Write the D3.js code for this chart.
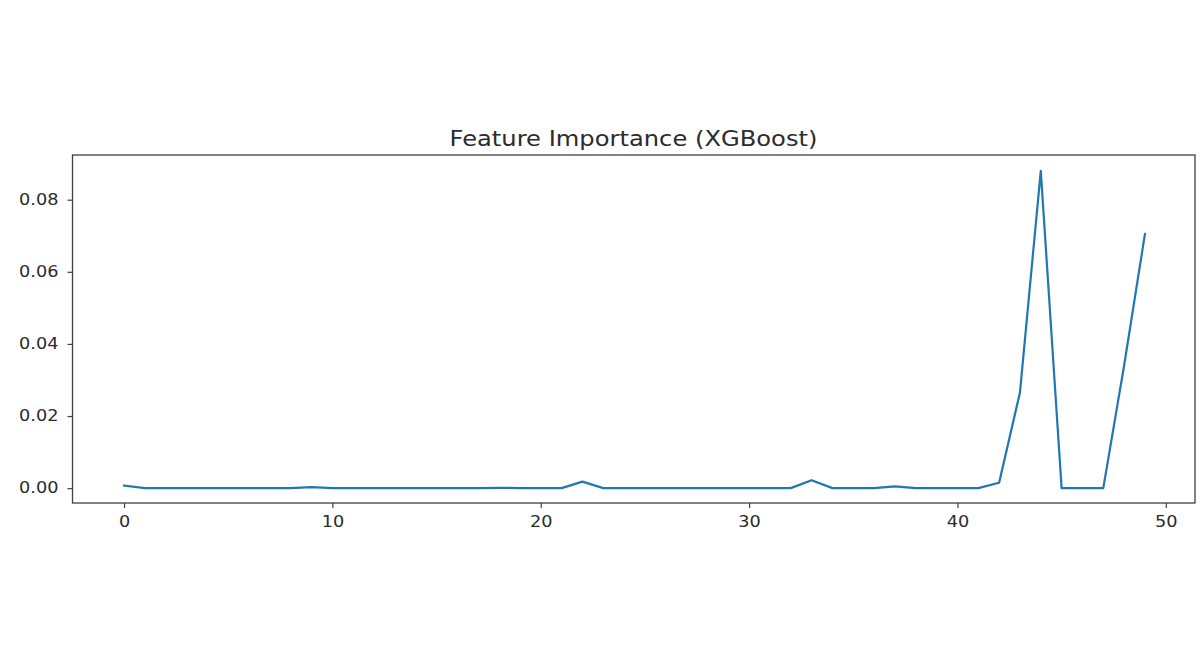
<!DOCTYPE html>
<html>
<head>
<meta charset="utf-8">
<script src="https://cdn.jsdelivr.net/npm/d3@7"></script>
<style>
  html, body { margin: 0; padding: 0; background: #fff; }
  svg { display: block; }
  text { font-family: "DejaVu Sans", sans-serif; fill: #2b2b2b; }
</style>
</head>
<body>
<svg id="chart" width="1201" height="651"></svg>
<script>
const title = "Feature Importance (XGBoost)";
const featureIndex = d3.range(50);
const importance = [
  0.0007, 0.0000, 0.0000, 0.0000, 0.0000, 0.0000, 0.0000, 0.0000, 0.0000, 0.0003,
  0.0000, 0.0000, 0.0000, 0.0000, 0.0000, 0.0000, 0.0000, 0.0000, 0.0001, 0.0000,
  0.0000, 0.0000, 0.0018, 0.0000, 0.0000, 0.0000, 0.0000, 0.0000, 0.0000, 0.0000,
  0.0000, 0.0000, 0.0000, 0.0022, 0.0000, 0.0000, 0.0000, 0.0005, 0.0000, 0.0000,
  0.0000, 0.0000, 0.0015, 0.0265, 0.0880, 0.0000, 0.0000, 0.0000, 0.0340, 0.0705
];
const xTicks = [0, 10, 20, 30, 40, 50];
const yTicks = [0.00, 0.02, 0.04, 0.06, 0.08];

const svg = d3.select("#chart");
const plot = { left: 73, right: 1196, top: 155, bottom: 504 };
const STRETCH = 1.18;

const xMin = 0, xMax = 49, yMin = 0, yMax = d3.max(importance);
const xPad = (xMax - xMin) * 0.05, yPad = (yMax - yMin) * 0.05;

const x = d3.scaleLinear().domain([xMin - xPad, xMax + xPad]).range([plot.left, plot.right]);
const y = d3.scaleLinear().domain([yMin - yPad, yMax + yPad]).range([plot.bottom, plot.top]);

// line
const line = d3.line().x((d, i) => x(featureIndex[i])).y(d => y(d));
svg.append("path")
  .datum(importance)
  .attr("fill", "none")
  .attr("stroke", "#1f77b4")
  .attr("stroke-width", 2.2)
  .attr("stroke-linejoin", "round")
  .attr("stroke-linecap", "square")
  .attr("d", line);

// frame
svg.append("rect")
  .attr("x", plot.left - 0.5).attr("y", plot.top)
  .attr("width", plot.right - plot.left - 0.5).attr("height", plot.bottom - plot.top - 1)
  .attr("fill", "none").attr("stroke", "#404040").attr("stroke-width", 1.3);

function stretch(sel) {
  sel.each(function () {
    const w = this.getComputedTextLength();
    d3.select(this).attr("textLength", w * STRETCH).attr("lengthAdjust", "spacingAndGlyphs");
  });
}

// axes
const xAxis = d3.axisBottom(x).tickValues(xTicks).tickSize(5).tickPadding(8).tickFormat(d3.format("d"));
const gx = svg.append("g").attr("transform", `translate(0,${plot.bottom - 1})`).call(xAxis);
const yAxis = d3.axisLeft(y).tickValues(yTicks).tickSize(5).tickPadding(9).tickFormat(d3.format(".2f"));
const gy = svg.append("g").attr("transform", `translate(${plot.left - 0.5},0)`).call(yAxis);

[gx, gy].forEach(g => {
  g.select(".domain").remove();
  g.selectAll(".tick line").attr("stroke", "#404040").attr("stroke-width", 1.2);
  g.selectAll(".tick text").style("font-family", "DejaVu Sans, sans-serif")
    .style("font-size", "15px").attr("fill", "#2b2b2b").call(stretch);
});

svg.append("text")
  .attr("x", (plot.left + plot.right) / 2 - 1)
  .attr("y", 146)
  .attr("text-anchor", "middle")
  .style("font-size", "20.5px")
  .text(title)
  .call(stretch);
</script>
</body>
</html>
